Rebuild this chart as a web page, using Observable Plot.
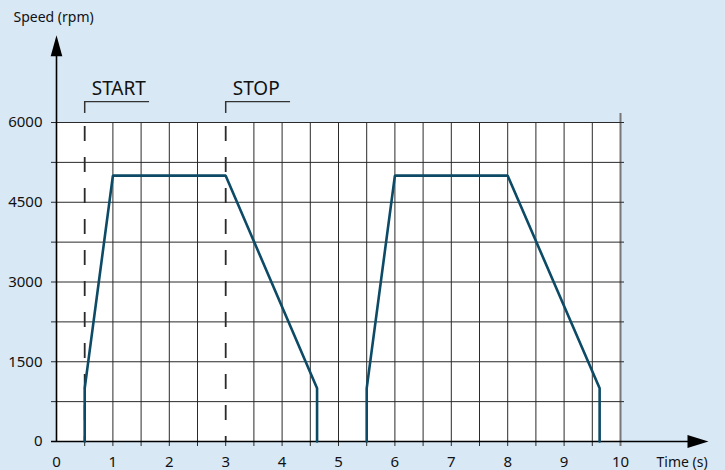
<!DOCTYPE html>
<html>
<head>
<meta charset="utf-8">
<script src="https://cdn.jsdelivr.net/npm/d3@7"></script>
<script src="https://cdn.jsdelivr.net/npm/@observablehq/plot@0.6"></script>
<style>
  html, body { margin: 0; padding: 0; background: #d9e8f5; }
  #chart { width: 725px; height: 470px; }
</style>
</head>
<body>
<div id="chart"></div>
<script>
// ---- data ----
const time1 = [0.5, 0.5, 1, 3, 4.62, 4.62];
const speed1 = [0, 1000, 5000, 5000, 1000, 0];
const time2 = [5.5, 5.5, 6, 8, 9.63, 9.63];
const speed2 = [0, 1000, 5000, 5000, 1000, 0];
const eventLabels = ["START", "STOP"];
const eventTimes = [0.5, 3];
const xTicks = [0, 1, 2, 3, 4, 5, 6, 7, 8, 9, 10];
const yTicks = [0, 1500, 3000, 4500, 6000];
const xGrid = [0.5, 1, 1.5, 2, 2.5, 3, 3.5, 4, 4.5, 5, 5.5, 6, 6.5, 7, 7.5, 8, 8.5, 9, 9.5];
const yGrid = [750, 1500, 2250, 3000, 3750, 4500, 5250, 6000];
const xLabel = "Time (s)";
const yLabel = "Speed (rpm)";
const xMax = 10, yMax = 6000;
const xAxisEnd = 11.56, yAxisEnd = 7640;

// ---- build ----
const curve1 = time1.map((t, i) => ({t, s: speed1[i]}));
const curve2 = time2.map((t, i) => ({t, s: speed2[i]}));
const events = eventLabels.map((label, i) => ({label, t: eventTimes[i]}));

const arrowUp = {draw(ctx) { ctx.moveTo(0, 0); ctx.lineTo(5.8, 21); ctx.lineTo(-5.8, 21); ctx.closePath(); }};
const arrowRight = {draw(ctx) { ctx.moveTo(0, 0); ctx.lineTo(-21, -6.5); ctx.lineTo(-21, 6.5); ctx.closePath(); }};

const pxX = 564 / xMax;   // pixels per x unit
const pxY = 319 / yMax;   // pixels per y unit
const tickX = 5 / pxX, tickY = 5 / pxY;

const lineColor = "#0c4a66";
const gridColor = "#2a2a2a";

const chart = Plot.plot({
  width: 725,
  height: 470,
  margin: 0,
  x: {domain: [0, xMax], range: [56, 620], axis: null},
  y: {domain: [0, yMax], range: [441, 122], axis: null},
  style: {background: "#d9e8f5", fontFamily: "Noto Sans, DejaVu Sans, sans-serif", fontSize: "15px", color: "#111"},
  marks: [
    // white plotting area
    Plot.rect([{}], {x1: 0, x2: xMax, y1: 0, y2: yMax, fill: "white"}),
    // vertical grid (with ticks below axis)
    Plot.ruleX(xGrid, {y1: -tickY, y2: yMax, stroke: gridColor, strokeWidth: 1}),
    // white under-stroke hides vertical grid line beneath dashed event lines
    Plot.ruleX(eventTimes, {y1: yMax, y2: 0, stroke: "white", strokeWidth: 3}),
    // right border
    Plot.ruleX([xMax], {y1: -tickY, y2: yMax + 1.8 * tickY, stroke: "#777", strokeWidth: 2}),
    // horizontal grid (with ticks left of axis)
    Plot.ruleY(yGrid, {x1: -tickX, x2: xMax + 0.8 * tickX, stroke: gridColor, strokeWidth: 1}),
    // dashed event lines
    Plot.ruleX(eventTimes, {y1: yMax, y2: 0, stroke: "#2a2a2a", strokeWidth: 1.8, strokeDasharray: "15 16", strokeDashoffset: -4}),
    // bracket vertical
    Plot.ruleX(eventTimes, {y1: 6170, y2: 6394, stroke: "#333", strokeWidth: 1.5}),
    // bracket horizontal
    Plot.ruleY(events, {y: () => 6394, x1: "t", x2: d => d.t + 1.15, stroke: "#333", strokeWidth: 1.3}),
    Plot.text(events, {x: "t", y: () => 6394, text: "label", textAnchor: "start", dx: 7, dy: -13, fontSize: 19}),
    // axes
    Plot.ruleX([0], {y1: 0, y2: yAxisEnd - 21 / pxY + 1, stroke: "black", strokeWidth: 1.6}),
    Plot.ruleY([0], {x1: -tickX, x2: xAxisEnd - 21 / pxX + 0.02, stroke: "black", strokeWidth: 1.6}),
    Plot.dot([{}], {x: () => 0, y: () => yAxisEnd, symbol: arrowUp, fill: "black", stroke: "none"}),
    Plot.dot([{}], {x: () => xAxisEnd, y: () => 0, symbol: arrowRight, fill: "black", stroke: "none"}),
    // tick labels
    Plot.text(xTicks, {x: d => d, y: () => 0, text: d => String(d), dy: 21, fontSize: 15}),
    Plot.text(yTicks, {x: () => 0, y: d => d, text: d => String(d), textAnchor: "end", dx: -14, fontSize: 15}),
    // axis labels
    Plot.text([yLabel], {x: () => 0, y: () => yAxisEnd, text: d => d, textAnchor: "start", dx: -43, dy: -18, fontSize: 14}),
    Plot.text([xLabel], {x: () => xAxisEnd, y: () => 0, text: d => d, textAnchor: "start", dx: -52, dy: 21, fontSize: 14}),
    // speed curves
    Plot.line(curve1, {x: "t", y: "s", stroke: lineColor, strokeWidth: 2.6, strokeLinejoin: "miter"}),
    Plot.line(curve2, {x: "t", y: "s", stroke: lineColor, strokeWidth: 2.6, strokeLinejoin: "miter"})
  ]
});
document.getElementById("chart").appendChild(chart);
</script>
</body>
</html>
